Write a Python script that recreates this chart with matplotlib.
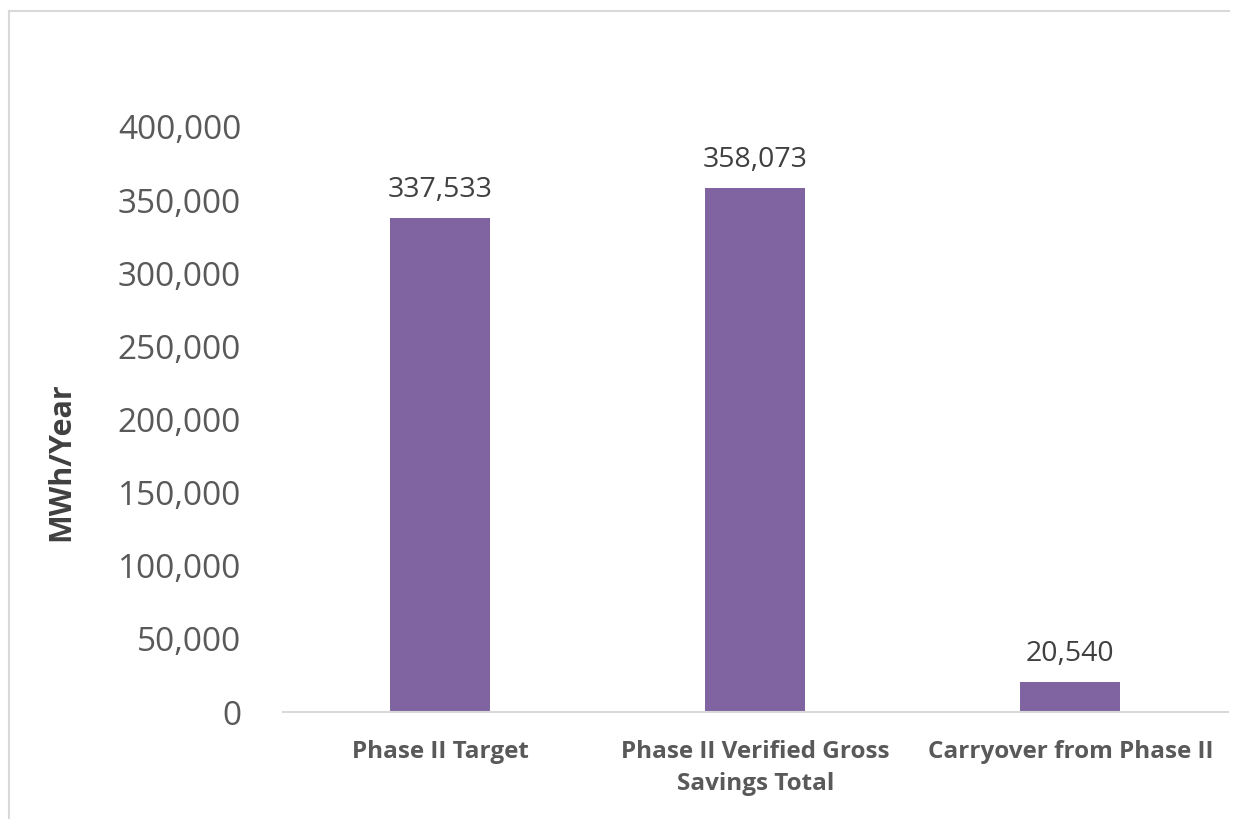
import matplotlib
matplotlib.use("Agg")
import matplotlib.pyplot as plt
from matplotlib.lines import Line2D

categories = ["Phase II Target", "Phase II Verified Gross\nSavings Total", "Carryover from Phase II"]
values = [337533, 358073, 20540]
yticks = [0, 50000, 100000, 150000, 200000, 250000, 300000, 350000, 400000]

plt.rcParams['font.family'] = ['Open Sans', 'DejaVu Sans']

fig = plt.figure(figsize=(12.46, 8.19), dpi=100)
ax = fig.add_axes([0.227, 0.1306, 0.7584, 0.7144])

x = range(len(categories))
ax.bar(x, values, width=0.317, color='#8064A2', zorder=2)

for xi, v in zip(x, values):
    ax.annotate(f"{v:,}", (xi, v), xytext=(0, 10), textcoords='offset points',
                ha='center', va='bottom', fontsize=20.5, color='#404040')

ax.set_xlim(-0.5, len(categories) - 0.5)
ax.set_ylim(0, 400000)
ax.set_yticks(yticks)
ax.set_yticklabels([f"{t:,}" for t in yticks], fontsize=24, color='#595959')
ax.set_xticks(list(x))
ax.set_xticklabels(categories, fontsize=17.5, fontweight='bold', color='#595959',
                   linespacing=1.45)
ax.tick_params(axis='both', length=0)
ax.tick_params(axis='y', pad=30)
ax.tick_params(axis='x', pad=20)

for s in ['top', 'right', 'left']:
    ax.spines[s].set_visible(False)
ax.spines['bottom'].set_color('#D9D9D9')
ax.spines['bottom'].set_linewidth(1.5)

fig.text(0.049, 0.436, "MWh/Year", rotation=90, ha='center', va='center',
         fontsize=22, fontweight='bold', color='#404040')

# outer chart frame
W, H = 1246, 819
fig.add_artist(Line2D([9 / W, 9 / W], [0, 1 - 11 / H], color='#D9D9D9', lw=1.5))
fig.add_artist(Line2D([9 / W, 1229 / W], [1 - 11 / H, 1 - 11 / H], color='#D9D9D9', lw=1.5))

fig.savefig("out.png", dpi=100)
